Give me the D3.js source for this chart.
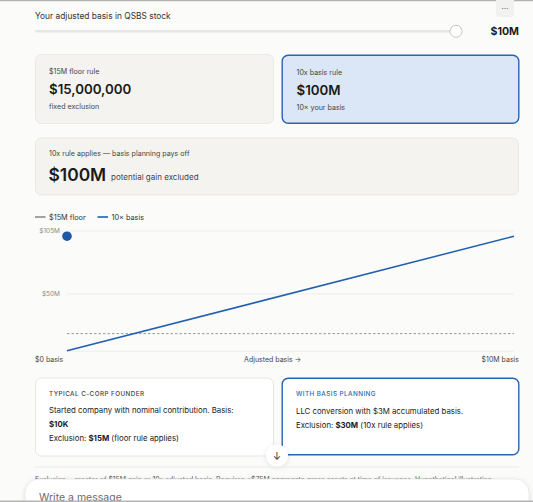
<!DOCTYPE html>
<html>
<head>
<meta charset="utf-8">
<script src="https://cdn.jsdelivr.net/npm/d3@7"></script>
<style>
  html, body { margin: 0; padding: 0; background: #fbfbfa; }
  svg { display: block; font-family: Inter, "Noto Sans", sans-serif; }
</style>
</head>
<body>
<div id="chart"></div>
<script>
// values ($M)
var basisSteps = [0, 10]
var tenXValues = [0, 100]
var floorValues = [15, 15]
var currentBasis = 10
var dotPoint = {basis: 0, value: 100}
var yGridValues = [0, 50, 105]
var yTickLabels = {0: "", 50: "$50M", 105: "$105M"}
var xTickLabels = ["$0 basis", "Adjusted basis \u2192", "$10M basis"]
var legendItems = [
    {label: "$15M floor", color: "#8c8c8c"},
    {label: "10\u00d7 basis", color: "#1f5fae"}
]

var W = 533, H = 502
var blue = "#1f5fae"

var svg = d3.select("#chart").append("svg")
    .attr("width", W).attr("height", H)

var defs = svg.append("defs")
var sh = defs.append("filter").attr("id", "shadow")
    .attr("x", "-20%").attr("y", "-40%").attr("width", "140%").attr("height", "180%")
sh.append("feDropShadow").attr("dx", 0).attr("dy", 1).attr("stdDeviation", 2)
    .attr("flood-color", "#000").attr("flood-opacity", 0.12)

svg.append("rect").attr("width", W).attr("height", H).attr("fill", "#fbfbfa")
svg.append("line").attr("x1", 0).attr("x2", W).attr("y1", 0.5).attr("y2", 0.5)
    .attr("stroke", "#b5b5b5").attr("stroke-width", 1.5)

// slider
svg.append("text").attr("x", 35).attr("y", 18.5)
    .style("font-size", "8.4px").attr("fill", "#333")
    .text("Your adjusted basis in QSBS stock")

var sliderX = d3.scaleLinear().domain([0, 10]).range([35, 456])
svg.append("rect").attr("x", 35).attr("y", 30).attr("width", 421).attr("height", 2.6)
    .attr("rx", 1.3).attr("fill", "#e6e6e4")
svg.append("circle").attr("cx", sliderX(currentBasis)).attr("cy", 31.3).attr("r", 6)
    .attr("fill", "#fff").attr("stroke", "#b8b8b8").attr("stroke-width", 0.8)
svg.append("text").attr("x", 519).attr("y", 35.4).attr("text-anchor", "end")
    .style("font-size", "10.6px").style("font-weight", 700).attr("fill", "#1a1a1a")
    .text("$" + currentBasis + "M")

// ... button
svg.append("rect").attr("x", 496).attr("y", -3).attr("width", 18).attr("height", 20)
    .attr("rx", 3).attr("fill", "#f1f1ef")
svg.append("text").attr("x", 505).attr("y", 9).attr("text-anchor", "middle")
    .style("font-size", "8px").attr("fill", "#555").text("\u2026")

// top cards
function card(x, y, w, h, fill, stroke, sw) {
    svg.append("rect").attr("x", x + sw / 2).attr("y", y + sw / 2)
        .attr("width", w - sw).attr("height", h - sw).attr("rx", 6)
        .attr("fill", fill).attr("stroke", stroke).attr("stroke-width", sw)
}
card(35, 54, 239, 70, "#f4f3ef", "#ebe9e4", 1)
card(281.5, 54.5, 238, 69.5, "#dbe7f6", "#2a64b0", 1.4)

function cardText(x, lines) {
    lines.forEach(function(l) {
        svg.append("text").attr("x", x).attr("y", l.y)
            .style("font-size", l.size + "px").style("font-weight", l.bold ? 600 : 400)
            .attr("fill", l.bold ? "#1a1a1a" : "#444").text(l.text)
    })
}
cardText(49, [
    {y: 74, size: 7.1, text: "$15M floor rule"},
    {y: 94, size: 13.3, bold: true, text: "$15,000,000"},
    {y: 108.6, size: 7.1, text: "fixed exclusion"}
])
cardText(296.5, [
    {y: 74.6, size: 7.1, text: "10x basis rule"},
    {y: 95.3, size: 13.3, bold: true, text: "$" + (currentBasis * 10) + "M"},
    {y: 110, size: 7.1, text: "10\u00d7 your basis"}
])

// result card
card(35, 137.5, 484, 58, "#f4f3ef", "#ebe9e4", 1)
svg.append("text").attr("x", 49).attr("y", 156.4)
    .style("font-size", "7.1px").attr("fill", "#444")
    .text("10x rule applies \u2014 basis planning pays off")
svg.append("text").attr("x", 48.5).attr("y", 180.6)
    .style("font-size", "17.4px").style("font-weight", 600).attr("fill", "#1a1a1a")
    .text("$" + (currentBasis * 10) + "M")
svg.append("text").attr("x", 111).attr("y", 179.6)
    .style("font-size", "8px").attr("fill", "#444")
    .text("potential gain excluded")

// legend
var leg = svg.selectAll("g.leg").data(legendItems).enter().append("g")
    .attr("class", "leg")
    .attr("transform", function(d, i) { return "translate(" + (35 + i * 62.5) + ",217)" })
leg.append("line").attr("x1", 0).attr("x2", 10.5).attr("y1", 0).attr("y2", 0)
    .attr("stroke", function(d) { return d.color }).attr("stroke-width", 1.6)
leg.append("text").attr("x", 14).attr("y", 2.6)
    .style("font-size", "7.3px").attr("fill", "#333")
    .text(function(d) { return d.label })

// chart
var x = d3.scaleLinear().domain([0, 10]).range([67, 514])
var y = d3.scaleLinear().domain([0, 105]).range([350.8, 230.5])

var yAxis = svg.append("g").attr("transform", "translate(" + x(0) + ",0)")
    .call(d3.axisLeft(y).tickValues(yGridValues).tickSize(-(x(10) - x(0)))
        .tickPadding(7).tickFormat(function(d) { return yTickLabels[d] }))
yAxis.select(".domain").remove()
yAxis.selectAll(".tick line").attr("stroke", "#ecebe8").attr("stroke-width", 0.8)
yAxis.selectAll(".tick text").attr("fill", "#8a8a8a")
    .style("font-size", "6.5px").style("font-family", "Inter, sans-serif")

var line = d3.line()
    .x(function(d) { return x(d[0]) })
    .y(function(d) { return y(d[1]) })

svg.append("path").datum(d3.zip(basisSteps, floorValues))
    .attr("d", line).attr("fill", "none")
    .attr("stroke", "#8c8c8c").attr("stroke-width", 0.9).attr("stroke-dasharray", "2.5,2")

svg.append("path").datum(d3.zip(basisSteps, tenXValues))
    .attr("d", line).attr("fill", "none")
    .attr("stroke", blue).attr("stroke-width", 1.5)

svg.append("circle").attr("cx", x(dotPoint.basis)).attr("cy", y(dotPoint.value))
    .attr("r", 4.8).attr("fill", "#1c5aa6")

var xPos = [{x: 35, a: "start"}, {x: 272.7, a: "middle"}, {x: 519, a: "end"}]
svg.selectAll("text.xl").data(xTickLabels).enter().append("text")
    .attr("class", "xl")
    .attr("x", function(d, i) { return xPos[i].x })
    .attr("y", 362)
    .attr("text-anchor", function(d, i) { return xPos[i].a })
    .style("font-size", "7px").attr("fill", "#444")
    .text(function(d) { return d })

// scenario cards
card(35, 377.5, 239, 79, "#ffffff", "#e8e6e1", 1)
card(281.5, 377.5, 238, 78, "#ffffff", "#2a64b0", 1.4)

function rich(x, yy, parts, size) {
    var t = svg.append("text").attr("x", x).attr("y", yy)
        .style("font-size", size + "px").attr("fill", "#222")
    parts.forEach(function(p) {
        t.append("tspan").style("font-weight", p[1] ? 700 : 400).text(p[0])
    })
}
svg.append("text").attr("x", 49).attr("y", 395.5)
    .style("font-size", "6.3px").style("letter-spacing", "0.45px").style("font-weight", 500)
    .attr("fill", "#444").text("TYPICAL C-CORP FOUNDER")
rich(49, 413, [["Started company with nominal contribution. Basis:"]], 7.8)
rich(49, 427.3, [["$10K", true]], 7.8)
rich(49, 441, [["Exclusion: "], ["$15M", true], [" (floor rule applies)"]], 7.8)

svg.append("text").attr("x", 296).attr("y", 396.3)
    .style("font-size", "6.3px").style("letter-spacing", "0.45px").style("font-weight", 500)
    .attr("fill", "#2a64b0").text("WITH BASIS PLANNING")
rich(296, 414.3, [["LLC conversion with $3M accumulated basis."]], 7.8)
rich(296, 428, [["Exclusion: "], ["$30M", true], [" (10x rule applies)"]], 7.8)

// scroll button
svg.append("circle").attr("cx", 277).attr("cy", 455.5).attr("r", 11)
    .attr("fill", "#fff").attr("filter", "url(#shadow)")
svg.append("text").attr("x", 277).attr("y", 459.5).attr("text-anchor", "middle")
    .style("font-size", "10px").attr("fill", "#333").text("\u2193")

svg.append("line").attr("x1", 35).attr("x2", 519).attr("y1", 467).attr("y2", 467)
    .attr("stroke", "#edebe7").attr("stroke-width", 1)

svg.append("text").attr("x", 35).attr("y", 482)
    .style("font-size", "6.9px").attr("fill", "#555")
    .text("Exclusion = greater of $15M gain or 10x adjusted basis. Requires \u2264$75M aggregate gross assets at time of issuance. Hypothetical illustration.")

// message box over the footer
svg.append("rect").attr("x", 25).attr("y", 479).attr("width", 504).attr("height", 40)
    .attr("rx", 14).attr("fill", "#fff").attr("stroke", "#e6e6e6").attr("stroke-width", 0.8)
    .attr("filter", "url(#shadow)")
svg.append("text").attr("x", 39).attr("y", 500.5)
    .style("font-size", "10.5px").attr("fill", "#6b6b6b").text("Write a message")
svg.append("line").attr("x1", 0).attr("x2", W).attr("y1", 501.2).attr("y2", 501.2)
    .attr("stroke", "#b5b5b5").attr("stroke-width", 1.5)
</script>
</body>
</html>
